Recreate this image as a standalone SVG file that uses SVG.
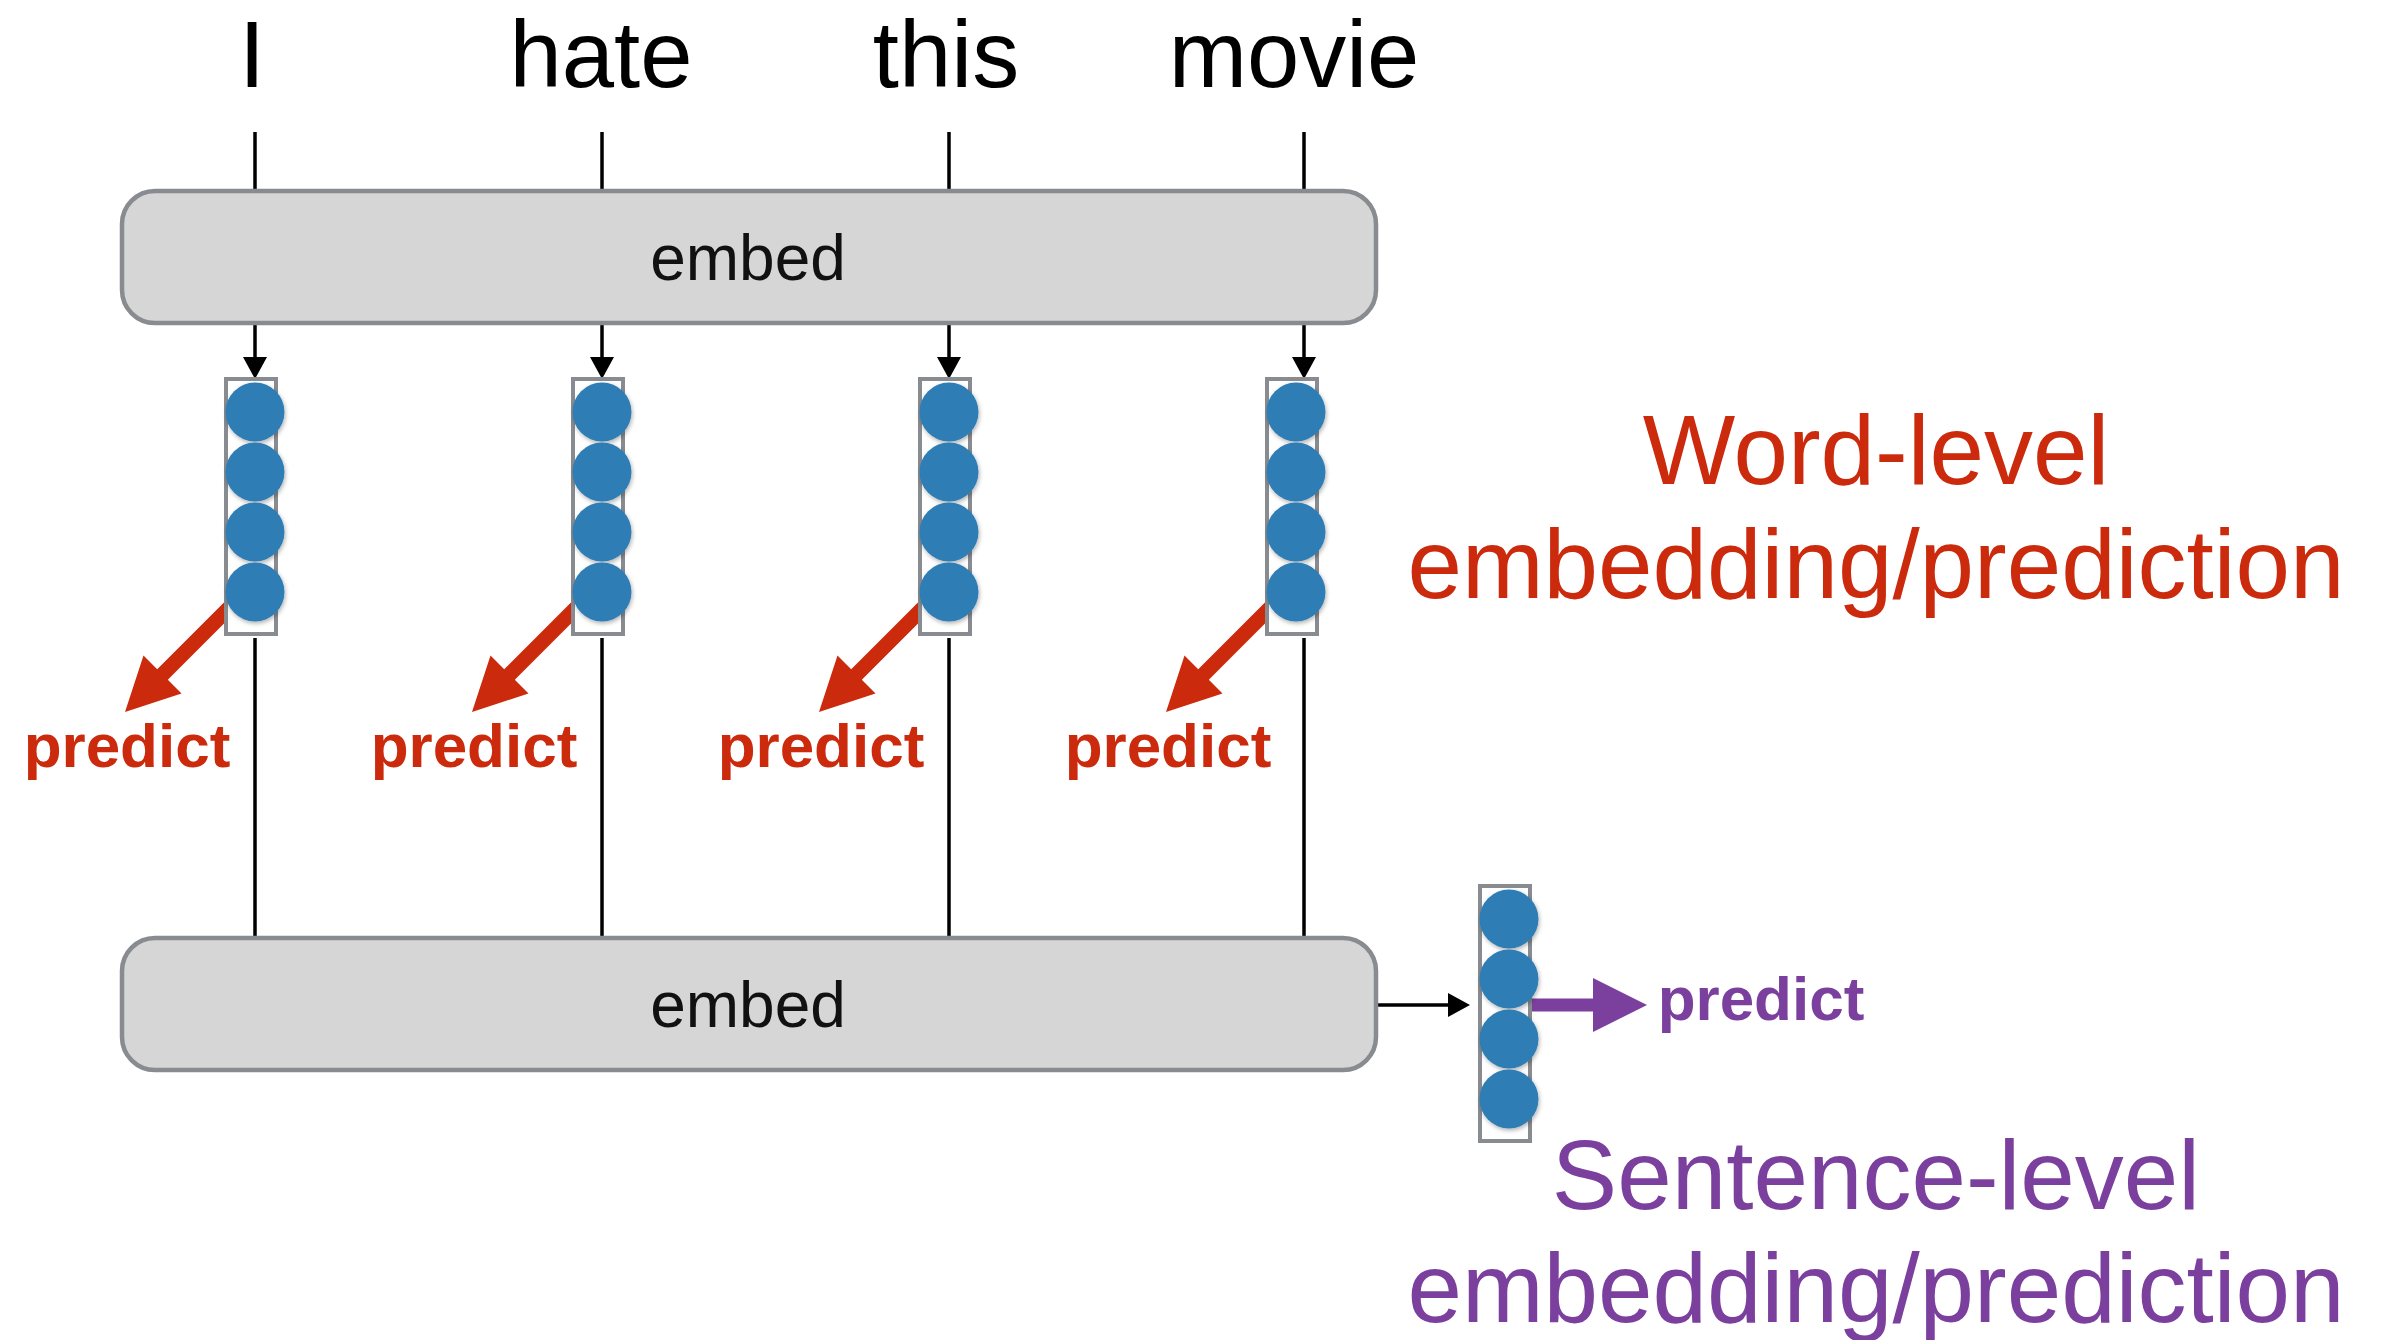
<svg xmlns="http://www.w3.org/2000/svg" width="2384" height="1340" viewBox="0 0 2384 1340">
<style>
.word{font-family:"Liberation Sans",Arial,sans-serif;font-size:94px;fill:#000;text-anchor:middle}
.embed-box{fill:#d6d6d6;stroke:#888b8f;stroke-width:4.5}
.embed-txt{font-family:"Liberation Sans",Arial,sans-serif;font-size:64px;fill:#111;text-anchor:middle}
.vec{fill:#fff;stroke:#888b8f;stroke-width:4}
.dot{fill:#2e7db4;filter:url(#sh)}
.ln{stroke:#000;stroke-width:3.5;fill:none}
.pred{font-family:"Liberation Sans",Arial,sans-serif;font-weight:bold;font-size:62px;text-anchor:middle}
.red{fill:#cb2a0c}
.pur{fill:#7b3f9e}
.big{font-family:"Liberation Sans",Arial,sans-serif;font-size:98px;text-anchor:middle}
</style>
<defs>
<filter id="sh" x="-30%" y="-30%" width="160%" height="160%">
<feDropShadow dx="1" dy="2" stdDeviation="2" flood-color="#000" flood-opacity="0.3"/>
</filter>
<marker id="ah" markerUnits="userSpaceOnUse" viewBox="0 0 22 24" refX="14" refY="12" markerWidth="22" markerHeight="24" orient="auto">
<path d="M0 0 L22 12 L0 24 Z" fill="#000"/>
</marker>
<path id="redArrow" d="M -18.7 611.3 L -87.2 679.8 L -73.5 693.5 L -130 712 L -111.5 655.5 L -97.8 669.2 L -29.3 600.7 Z"/>
<g id="vector">
<rect class="vec" x="-29" y="0" width="50" height="255"/>
<circle class="dot" cx="0" cy="33" r="29.5"/>
<circle class="dot" cx="0" cy="93" r="29.5"/>
<circle class="dot" cx="0" cy="153" r="29.5"/>
<circle class="dot" cx="0" cy="213" r="29.5"/>
</g>
</defs>
<rect width="2384" height="1340" fill="#fff"/>

<g id="words">
<text class="word" x="252" y="87">I</text>
<text class="word" x="601" y="87">hate</text>
<text class="word" x="946" y="87">this</text>
<text class="word" x="1294" y="87">movie</text>
</g>

<g id="connectors">
<line class="ln" x1="255" y1="132" x2="255" y2="190"/>
<line class="ln" x1="602" y1="132" x2="602" y2="190"/>
<line class="ln" x1="949" y1="132" x2="949" y2="190"/>
<line class="ln" x1="1304" y1="132" x2="1304" y2="190"/>
<line class="ln" x1="255" y1="323" x2="255" y2="371" marker-end="url(#ah)"/>
<line class="ln" x1="602" y1="323" x2="602" y2="371" marker-end="url(#ah)"/>
<line class="ln" x1="949" y1="323" x2="949" y2="371" marker-end="url(#ah)"/>
<line class="ln" x1="1304" y1="323" x2="1304" y2="371" marker-end="url(#ah)"/>
<line class="ln" x1="255" y1="638" x2="255" y2="937"/>
<line class="ln" x1="602" y1="638" x2="602" y2="937"/>
<line class="ln" x1="949" y1="638" x2="949" y2="937"/>
<line class="ln" x1="1304" y1="638" x2="1304" y2="937"/>
<line class="ln" x1="1377" y1="1005" x2="1462" y2="1005" marker-end="url(#ah)"/>
<use href="#redArrow" class="red" transform="translate(255,0)"/>
<use href="#redArrow" class="red" transform="translate(602,0)"/>
<use href="#redArrow" class="red" transform="translate(949,0)"/>
<use href="#redArrow" class="red" transform="translate(1296,0)"/>
<path class="pur" d="M 1528 998.5 H 1593 V 978 L 1647 1005 L 1593 1032 V 1011.5 H 1528 Z"/>
</g>

<g id="embed-top">
<rect class="embed-box" x="122" y="191" width="1254" height="132" rx="33" ry="33"/>
<text class="embed-txt" x="748" y="280">embed</text>
</g>

<g id="embed-bottom">
<rect class="embed-box" x="122" y="938" width="1254" height="132" rx="33" ry="33"/>
<text class="embed-txt" x="748" y="1027">embed</text>
</g>

<g id="vec-I"><use href="#vector" transform="translate(255,379)"/></g>
<g id="vec-hate"><use href="#vector" transform="translate(602,379)"/></g>
<g id="vec-this"><use href="#vector" transform="translate(949,379)"/></g>
<g id="vec-movie"><use href="#vector" transform="translate(1296,379)"/></g>
<g id="vec-sentence"><use href="#vector" transform="translate(1509,886)"/></g>

<g id="predict-labels">
<text class="pred red" x="127" y="767">predict</text>
<text class="pred red" x="474" y="767">predict</text>
<text class="pred red" x="821" y="767">predict</text>
<text class="pred red" x="1168" y="767">predict</text>
<text class="pred pur" x="1761" y="1020">predict</text>
</g>

<g id="word-level-label">
<text class="big red" x="1876" y="484">Word-level</text>
<text class="big red" x="1876" y="598">embedding/prediction</text>
</g>

<g id="sentence-level-label">
<text class="big pur" x="1876" y="1209">Sentence-level</text>
<text class="big pur" x="1876" y="1322">embedding/prediction</text>
</g>
</svg>
